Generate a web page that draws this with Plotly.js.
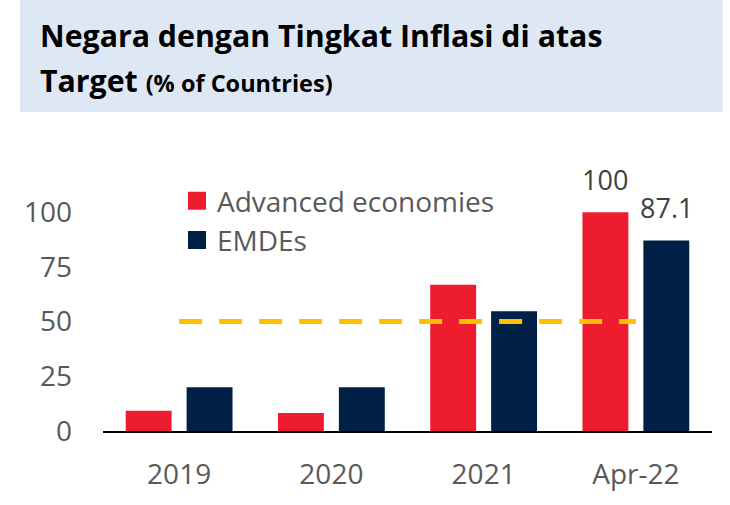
<!DOCTYPE html>
<html>
<head>
<meta charset="utf-8">
<script src="https://cdn.plot.ly/plotly-3.0.1.min.js"></script>
<style>html,body{margin:0;padding:0;background:#fff;}#chart{width:730px;height:505px;}</style>
</head>
<body>
<div id="chart"></div>
<script>
const categories = ['2019', '2020', '2021', 'Apr-22'];
const advancedValues = [9.3, 8.2, 66.8, 100];
const emdeValues = [20.0, 20.0, 54.7, 87.1];
const advancedLabels = ['', '', '', '100'];
const emdeLabels = ['', '', '', '87.1'];
const targetValues = [50, 50, 50, 50];
const yTicks = [0, 25, 50, 75, 100];
const seriesNames = ['Advanced economies', 'EMDEs'];
const titleLine1 = 'Negara dengan Tingkat Inflasi di atas';
const titleLine2 = 'Target';
const titleSub = '(% of Countries)';

const RED = '#ED1C2E';
const NAVY = '#002145';
const GOLD = '#FFC000';
const GREY = '#595959';
const FONT = '"Open Sans", Lato, sans-serif';

const traces = [
  {type: 'bar', x: categories, y: advancedValues, name: seriesNames[0], marker: {color: RED},
   showlegend: false, hoverinfo: 'x+y'},
  {type: 'bar', x: categories, y: emdeValues, name: seriesNames[1], marker: {color: NAVY},
   showlegend: false, hoverinfo: 'x+y'},
  {type: 'scatter', mode: 'lines', x: categories, y: targetValues, showlegend: false,
   line: {color: GOLD, width: 5, dash: '23px,17px'}, hoverinfo: 'skip'},
  // legend entries
  {type: 'scatter', mode: 'markers', x: [null], y: [null], name: seriesNames[0],
   marker: {symbol: 'square', size: 16, color: RED, line: {color: RED, width: 2}}},
  {type: 'scatter', mode: 'markers', x: [null], y: [null], name: seriesNames[1],
   marker: {symbol: 'square', size: 16, color: NAVY, line: {color: NAVY, width: 2}}}
];

// value labels above the bars, placed through the data scales
const labelAnnotations = [];
categories.forEach((c, i) => {
  if (advancedLabels[i]) labelAnnotations.push({x: c, y: advancedValues[i], xref: 'x', yref: 'y',
    text: advancedLabels[i], showarrow: false, yanchor: 'bottom', xanchor: 'center', xshift: -30.5, yshift: 12,
    font: {family: FONT, size: 27, color: '#404040'}});
  if (emdeLabels[i]) labelAnnotations.push({x: c, y: emdeValues[i], xref: 'x', yref: 'y',
    text: emdeLabels[i], showarrow: false, yanchor: 'bottom', xanchor: 'center', xshift: 30.5, yshift: 12,
    font: {family: FONT, size: 27, color: '#404040'}});
});

const layout = {
  width: 730, height: 505,
  margin: {l: 103, r: 18, t: 170, b: 74},
  paper_bgcolor: '#ffffff', plot_bgcolor: 'rgba(0,0,0,0)',
  font: {family: FONT, color: GREY, size: 28},
  barmode: 'group', bargap: 0.2, bargroupgap: 0.246,
  showlegend: true,
  legend: {x: 0.1215, y: 0.977, xanchor: 'left', yanchor: 'top', bgcolor: 'rgba(0,0,0,0)',
           font: {family: FONT, size: 28, color: GREY}, tracegroupgap: 0},
  xaxis: {type: 'category', showgrid: false, zeroline: false, showline: true, linecolor: '#000000', linewidth: 2,
          ticks: '', ticklabelstandoff: 17, tickfont: {family: FONT, size: 28, color: GREY}, fixedrange: true},
  yaxis: {range: [0, 119.3], tickvals: yTicks, showgrid: false, zeroline: false, showline: false,
          ticks: '', ticklabelstandoff: 30, tickfont: {family: FONT, size: 28, color: GREY}, fixedrange: true},
  shapes: [
    {type: 'rect', xref: 'paper', yref: 'paper', x0: -0.1363, x1: 1.0176, y0: 1.222, y1: 1.651,
     fillcolor: '#DEE8F4', line: {width: 0}, layer: 'below'}
  ],
  annotations: [
    {xref: 'paper', yref: 'paper', x: -0.1072, y: 1.514, xanchor: 'left', yanchor: 'middle', showarrow: false,
     text: '<b>' + titleLine1 + '</b>', font: {family: FONT, size: 30.3, color: '#000000'}},
    {xref: 'paper', yref: 'paper', x: -0.1072, y: 1.341, xanchor: 'left', yanchor: 'middle', showarrow: false,
     text: '<b>' + titleLine2 + ' <span style="font-size:23.5px">' + titleSub + '</span></b>',
     font: {family: FONT, size: 30.3, color: '#000000'}}
  ].concat(labelAnnotations)
};

Plotly.newPlot('chart', traces, layout, {displayModeBar: false, staticPlot: true});
</script>
</body>
</html>
